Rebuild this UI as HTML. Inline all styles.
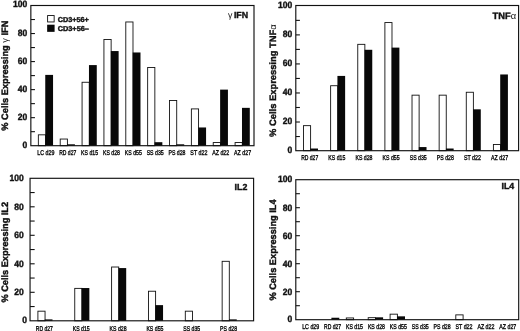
<!DOCTYPE html><html><head><meta charset="utf-8"><style>html,body{margin:0;padding:0;background:#fff}svg{display:block;will-change:transform}text{font-family:"Liberation Sans", sans-serif;fill:#111;stroke:#111;stroke-width:0.4px;text-rendering:geometricPrecision}</style></head><body>
<svg width="520" height="331" viewBox="0 0 520 331">
<rect width="520" height="331" fill="#fff"/>
<rect x="38.35" y="134.83" width="7.20" height="10.87" fill="#fff" stroke="#111" stroke-width="0.9"/>
<rect x="45.25" y="74.90" width="7.80" height="70.80" fill="#080808"/>
<rect x="60.21" y="139.04" width="7.20" height="6.66" fill="#fff" stroke="#111" stroke-width="0.9"/>
<rect x="67.11" y="144.30" width="7.80" height="1.40" fill="#080808"/>
<rect x="82.07" y="82.26" width="7.20" height="63.44" fill="#fff" stroke="#111" stroke-width="0.9"/>
<rect x="88.97" y="65.09" width="7.80" height="80.61" fill="#080808"/>
<rect x="103.93" y="39.50" width="7.20" height="106.20" fill="#fff" stroke="#111" stroke-width="0.9"/>
<rect x="110.83" y="51.06" width="7.80" height="94.64" fill="#080808"/>
<rect x="125.79" y="21.97" width="7.20" height="123.73" fill="#fff" stroke="#111" stroke-width="0.9"/>
<rect x="132.69" y="52.47" width="7.80" height="93.23" fill="#080808"/>
<rect x="147.65" y="67.54" width="7.20" height="78.16" fill="#fff" stroke="#111" stroke-width="0.9"/>
<rect x="154.55" y="142.19" width="7.80" height="3.50" fill="#080808"/>
<rect x="169.51" y="100.49" width="7.20" height="45.21" fill="#fff" stroke="#111" stroke-width="0.9"/>
<rect x="176.41" y="144.30" width="7.80" height="1.40" fill="#080808"/>
<rect x="191.37" y="108.90" width="7.20" height="36.80" fill="#fff" stroke="#111" stroke-width="0.9"/>
<rect x="198.27" y="127.47" width="7.80" height="18.23" fill="#080808"/>
<rect x="213.23" y="142.55" width="7.20" height="3.15" fill="#fff" stroke="#111" stroke-width="0.9"/>
<rect x="220.13" y="89.62" width="7.80" height="56.08" fill="#080808"/>
<rect x="235.09" y="142.55" width="7.20" height="3.15" fill="#fff" stroke="#111" stroke-width="0.9"/>
<rect x="241.99" y="107.85" width="7.80" height="37.85" fill="#080808"/>
<rect x="30.85" y="5.50" width="223.15" height="140.20" fill="none" stroke="#111" stroke-width="1.15"/>
<line x1="30.85" y1="131.68" x2="34.95" y2="131.68" stroke="#111" stroke-width="1.1"/>
<line x1="30.85" y1="117.66" x2="34.95" y2="117.66" stroke="#111" stroke-width="1.1"/>
<line x1="30.85" y1="103.64" x2="34.95" y2="103.64" stroke="#111" stroke-width="1.1"/>
<line x1="30.85" y1="89.62" x2="34.95" y2="89.62" stroke="#111" stroke-width="1.1"/>
<line x1="30.85" y1="75.60" x2="34.95" y2="75.60" stroke="#111" stroke-width="1.1"/>
<line x1="30.85" y1="61.58" x2="34.95" y2="61.58" stroke="#111" stroke-width="1.1"/>
<line x1="30.85" y1="47.56" x2="34.95" y2="47.56" stroke="#111" stroke-width="1.1"/>
<line x1="30.85" y1="33.54" x2="34.95" y2="33.54" stroke="#111" stroke-width="1.1"/>
<line x1="30.85" y1="19.52" x2="34.95" y2="19.52" stroke="#111" stroke-width="1.1"/>
<text x="27.20" y="147.50" font-size="9.2" font-weight="bold" text-anchor="end" textLength="4.75" lengthAdjust="spacingAndGlyphs">0</text>
<text x="27.20" y="120.46" font-size="9.2" font-weight="bold" text-anchor="end" textLength="9.50" lengthAdjust="spacingAndGlyphs">20</text>
<text x="27.20" y="92.42" font-size="9.2" font-weight="bold" text-anchor="end" textLength="9.50" lengthAdjust="spacingAndGlyphs">40</text>
<text x="27.20" y="64.38" font-size="9.2" font-weight="bold" text-anchor="end" textLength="9.50" lengthAdjust="spacingAndGlyphs">60</text>
<text x="27.20" y="36.34" font-size="9.2" font-weight="bold" text-anchor="end" textLength="9.50" lengthAdjust="spacingAndGlyphs">80</text>
<text x="27.20" y="7.30" font-size="9.2" font-weight="bold" text-anchor="end" textLength="14.25" lengthAdjust="spacingAndGlyphs">100</text>
<text x="45.85" y="155.00" font-size="7" text-anchor="middle" textLength="17.0" lengthAdjust="spacingAndGlyphs">LC d29</text>
<text x="67.71" y="155.00" font-size="7" text-anchor="middle" textLength="17.0" lengthAdjust="spacingAndGlyphs">RD d27</text>
<text x="89.57" y="155.00" font-size="7" text-anchor="middle" textLength="17.0" lengthAdjust="spacingAndGlyphs">KS d15</text>
<text x="111.43" y="155.00" font-size="7" text-anchor="middle" textLength="17.0" lengthAdjust="spacingAndGlyphs">KS d28</text>
<text x="133.29" y="155.00" font-size="7" text-anchor="middle" textLength="17.0" lengthAdjust="spacingAndGlyphs">KS d55</text>
<text x="155.15" y="155.00" font-size="7" text-anchor="middle" textLength="17.0" lengthAdjust="spacingAndGlyphs">SS d35</text>
<text x="177.01" y="155.00" font-size="7" text-anchor="middle" textLength="17.0" lengthAdjust="spacingAndGlyphs">PS d28</text>
<text x="198.87" y="155.00" font-size="7" text-anchor="middle" textLength="17.0" lengthAdjust="spacingAndGlyphs">ST d22</text>
<text x="220.73" y="155.00" font-size="7" text-anchor="middle" textLength="17.0" lengthAdjust="spacingAndGlyphs">AZ d22</text>
<text x="242.59" y="155.00" font-size="7" text-anchor="middle" textLength="17.0" lengthAdjust="spacingAndGlyphs">AZ d27</text>
<text transform="translate(7.60,75.65) rotate(-90)" font-size="9.3" font-weight="bold" text-anchor="middle" textLength="110.1" lengthAdjust="spacingAndGlyphs">% Cells Expressing <tspan font-weight='normal' stroke='none'>γ</tspan> IFN</text>
<rect x="303.50" y="125.65" width="7.10" height="25.05" fill="#fff" stroke="#111" stroke-width="0.9"/>
<rect x="310.30" y="148.52" width="7.70" height="2.18" fill="#080808"/>
<rect x="330.63" y="85.72" width="7.10" height="64.98" fill="#fff" stroke="#111" stroke-width="0.9"/>
<rect x="337.43" y="75.92" width="7.70" height="74.78" fill="#080808"/>
<rect x="357.76" y="44.34" width="7.10" height="106.36" fill="#fff" stroke="#111" stroke-width="0.9"/>
<rect x="364.56" y="49.79" width="7.70" height="100.91" fill="#080808"/>
<rect x="384.89" y="22.56" width="7.10" height="128.14" fill="#fff" stroke="#111" stroke-width="0.9"/>
<rect x="391.69" y="47.61" width="7.70" height="103.09" fill="#080808"/>
<rect x="412.02" y="95.16" width="7.10" height="55.54" fill="#fff" stroke="#111" stroke-width="0.9"/>
<rect x="418.82" y="147.07" width="7.70" height="3.63" fill="#080808"/>
<rect x="439.15" y="95.16" width="7.10" height="55.54" fill="#fff" stroke="#111" stroke-width="0.9"/>
<rect x="445.95" y="148.52" width="7.70" height="2.18" fill="#080808"/>
<rect x="466.28" y="92.26" width="7.10" height="58.44" fill="#fff" stroke="#111" stroke-width="0.9"/>
<rect x="473.08" y="109.32" width="7.70" height="41.38" fill="#080808"/>
<rect x="493.41" y="144.53" width="7.10" height="6.17" fill="#fff" stroke="#111" stroke-width="0.9"/>
<rect x="500.21" y="74.47" width="7.70" height="76.23" fill="#080808"/>
<rect x="295.80" y="5.50" width="222.80" height="145.20" fill="none" stroke="#111" stroke-width="1.15"/>
<line x1="295.80" y1="136.53" x2="299.90" y2="136.53" stroke="#111" stroke-width="1.1"/>
<line x1="295.80" y1="122.01" x2="299.90" y2="122.01" stroke="#111" stroke-width="1.1"/>
<line x1="295.80" y1="107.49" x2="299.90" y2="107.49" stroke="#111" stroke-width="1.1"/>
<line x1="295.80" y1="92.97" x2="299.90" y2="92.97" stroke="#111" stroke-width="1.1"/>
<line x1="295.80" y1="78.45" x2="299.90" y2="78.45" stroke="#111" stroke-width="1.1"/>
<line x1="295.80" y1="63.93" x2="299.90" y2="63.93" stroke="#111" stroke-width="1.1"/>
<line x1="295.80" y1="49.41" x2="299.90" y2="49.41" stroke="#111" stroke-width="1.1"/>
<line x1="295.80" y1="34.89" x2="299.90" y2="34.89" stroke="#111" stroke-width="1.1"/>
<line x1="295.80" y1="20.37" x2="299.90" y2="20.37" stroke="#111" stroke-width="1.1"/>
<text x="292.20" y="152.60" font-size="9.2" font-weight="bold" text-anchor="end" textLength="4.75" lengthAdjust="spacingAndGlyphs">0</text>
<text x="292.20" y="124.46" font-size="9.2" font-weight="bold" text-anchor="end" textLength="9.50" lengthAdjust="spacingAndGlyphs">20</text>
<text x="292.20" y="95.42" font-size="9.2" font-weight="bold" text-anchor="end" textLength="9.50" lengthAdjust="spacingAndGlyphs">40</text>
<text x="292.20" y="66.38" font-size="9.2" font-weight="bold" text-anchor="end" textLength="9.50" lengthAdjust="spacingAndGlyphs">60</text>
<text x="292.20" y="37.34" font-size="9.2" font-weight="bold" text-anchor="end" textLength="9.50" lengthAdjust="spacingAndGlyphs">80</text>
<text x="292.20" y="7.85" font-size="9.2" font-weight="bold" text-anchor="end" textLength="14.25" lengthAdjust="spacingAndGlyphs">100</text>
<text x="309.70" y="159.80" font-size="7" text-anchor="middle" textLength="17.0" lengthAdjust="spacingAndGlyphs">RD d27</text>
<text x="336.83" y="159.80" font-size="7" text-anchor="middle" textLength="17.0" lengthAdjust="spacingAndGlyphs">KS d15</text>
<text x="363.96" y="159.80" font-size="7" text-anchor="middle" textLength="17.0" lengthAdjust="spacingAndGlyphs">KS d28</text>
<text x="391.09" y="159.80" font-size="7" text-anchor="middle" textLength="17.0" lengthAdjust="spacingAndGlyphs">KS d55</text>
<text x="418.22" y="159.80" font-size="7" text-anchor="middle" textLength="17.0" lengthAdjust="spacingAndGlyphs">SS d35</text>
<text x="445.35" y="159.80" font-size="7" text-anchor="middle" textLength="17.0" lengthAdjust="spacingAndGlyphs">PS d28</text>
<text x="472.48" y="159.80" font-size="7" text-anchor="middle" textLength="17.0" lengthAdjust="spacingAndGlyphs">ST d22</text>
<text x="499.61" y="159.80" font-size="7" text-anchor="middle" textLength="17.0" lengthAdjust="spacingAndGlyphs">AZ d27</text>
<text transform="translate(276.30,80.65) rotate(-90)" font-size="9.3" font-weight="bold" text-anchor="middle" textLength="112.5" lengthAdjust="spacingAndGlyphs">% Cells Expressing TNF<tspan font-weight='normal' stroke='none'>α</tspan></text>
<rect x="37.90" y="311.18" width="7.15" height="9.62" fill="#fff" stroke="#111" stroke-width="0.9"/>
<rect x="44.75" y="319.38" width="7.75" height="1.43" fill="#080808"/>
<rect x="74.75" y="288.38" width="7.15" height="32.42" fill="#fff" stroke="#111" stroke-width="0.9"/>
<rect x="81.60" y="288.03" width="7.75" height="32.77" fill="#080808"/>
<rect x="111.60" y="267.01" width="7.15" height="53.79" fill="#fff" stroke="#111" stroke-width="0.9"/>
<rect x="118.45" y="268.07" width="7.75" height="52.73" fill="#080808"/>
<rect x="148.45" y="291.23" width="7.15" height="29.57" fill="#fff" stroke="#111" stroke-width="0.9"/>
<rect x="155.30" y="305.12" width="7.75" height="15.68" fill="#080808"/>
<rect x="185.30" y="311.18" width="7.15" height="9.62" fill="#fff" stroke="#111" stroke-width="0.9"/>
<rect x="222.15" y="261.31" width="7.15" height="59.49" fill="#fff" stroke="#111" stroke-width="0.9"/>
<rect x="229.00" y="319.38" width="7.75" height="1.43" fill="#080808"/>
<rect x="30.05" y="178.30" width="223.55" height="142.50" fill="none" stroke="#111" stroke-width="1.15"/>
<line x1="30.05" y1="306.55" x2="34.65" y2="306.55" stroke="#111" stroke-width="1.1"/>
<line x1="30.05" y1="292.30" x2="34.65" y2="292.30" stroke="#111" stroke-width="1.1"/>
<line x1="30.05" y1="278.05" x2="34.65" y2="278.05" stroke="#111" stroke-width="1.1"/>
<line x1="30.05" y1="263.80" x2="34.65" y2="263.80" stroke="#111" stroke-width="1.1"/>
<line x1="30.05" y1="249.55" x2="34.65" y2="249.55" stroke="#111" stroke-width="1.1"/>
<line x1="30.05" y1="235.30" x2="34.65" y2="235.30" stroke="#111" stroke-width="1.1"/>
<line x1="30.05" y1="221.05" x2="34.65" y2="221.05" stroke="#111" stroke-width="1.1"/>
<line x1="30.05" y1="206.80" x2="34.65" y2="206.80" stroke="#111" stroke-width="1.1"/>
<line x1="30.05" y1="192.55" x2="34.65" y2="192.55" stroke="#111" stroke-width="1.1"/>
<text x="27.10" y="322.50" font-size="9.2" font-weight="bold" text-anchor="end" textLength="4.75" lengthAdjust="spacingAndGlyphs">0</text>
<text x="23.80" y="295.10" font-size="9.2" font-weight="bold" text-anchor="end" textLength="9.50" lengthAdjust="spacingAndGlyphs">20</text>
<text x="23.80" y="266.60" font-size="9.2" font-weight="bold" text-anchor="end" textLength="9.50" lengthAdjust="spacingAndGlyphs">40</text>
<text x="23.80" y="238.10" font-size="9.2" font-weight="bold" text-anchor="end" textLength="9.50" lengthAdjust="spacingAndGlyphs">60</text>
<text x="23.80" y="209.60" font-size="9.2" font-weight="bold" text-anchor="end" textLength="9.50" lengthAdjust="spacingAndGlyphs">80</text>
<text x="23.80" y="181.00" font-size="9.2" font-weight="bold" text-anchor="end" textLength="14.25" lengthAdjust="spacingAndGlyphs">100</text>
<text x="44.35" y="330.50" font-size="7" text-anchor="middle" textLength="17.0" lengthAdjust="spacingAndGlyphs">RD d27</text>
<text x="81.20" y="330.50" font-size="7" text-anchor="middle" textLength="17.0" lengthAdjust="spacingAndGlyphs">KS d15</text>
<text x="118.05" y="330.50" font-size="7" text-anchor="middle" textLength="17.0" lengthAdjust="spacingAndGlyphs">KS d28</text>
<text x="154.90" y="330.50" font-size="7" text-anchor="middle" textLength="17.0" lengthAdjust="spacingAndGlyphs">KS d55</text>
<text x="191.75" y="330.50" font-size="7" text-anchor="middle" textLength="17.0" lengthAdjust="spacingAndGlyphs">SS d35</text>
<text x="228.60" y="330.50" font-size="7" text-anchor="middle" textLength="17.0" lengthAdjust="spacingAndGlyphs">PS d28</text>
<text transform="translate(7.80,252.20) rotate(-90)" font-size="9.3" font-weight="bold" text-anchor="middle" textLength="100.6" lengthAdjust="spacingAndGlyphs">% Cells Expressing IL2</text>
<rect x="331.40" y="317.74" width="7.90" height="1.96" fill="#080808"/>
<rect x="346.30" y="317.95" width="7.30" height="1.75" fill="#fff" stroke="#111" stroke-width="0.9"/>
<rect x="368.20" y="317.67" width="7.30" height="2.03" fill="#fff" stroke="#111" stroke-width="0.9"/>
<rect x="375.20" y="317.32" width="7.90" height="2.38" fill="#080808"/>
<rect x="390.10" y="314.17" width="7.30" height="5.53" fill="#fff" stroke="#111" stroke-width="0.9"/>
<rect x="397.10" y="316.34" width="7.90" height="3.36" fill="#080808"/>
<rect x="455.80" y="314.87" width="7.30" height="4.83" fill="#fff" stroke="#111" stroke-width="0.9"/>
<rect x="295.80" y="179.70" width="222.90" height="140.00" fill="none" stroke="#111" stroke-width="1.15"/>
<line x1="295.80" y1="305.70" x2="299.90" y2="305.70" stroke="#111" stroke-width="1.1"/>
<line x1="295.80" y1="291.70" x2="299.90" y2="291.70" stroke="#111" stroke-width="1.1"/>
<line x1="295.80" y1="277.70" x2="299.90" y2="277.70" stroke="#111" stroke-width="1.1"/>
<line x1="295.80" y1="263.70" x2="299.90" y2="263.70" stroke="#111" stroke-width="1.1"/>
<line x1="295.80" y1="249.70" x2="299.90" y2="249.70" stroke="#111" stroke-width="1.1"/>
<line x1="295.80" y1="235.70" x2="299.90" y2="235.70" stroke="#111" stroke-width="1.1"/>
<line x1="295.80" y1="221.70" x2="299.90" y2="221.70" stroke="#111" stroke-width="1.1"/>
<line x1="295.80" y1="207.70" x2="299.90" y2="207.70" stroke="#111" stroke-width="1.1"/>
<line x1="295.80" y1="193.70" x2="299.90" y2="193.70" stroke="#111" stroke-width="1.1"/>
<text x="292.30" y="321.60" font-size="9.2" font-weight="bold" text-anchor="end" textLength="4.75" lengthAdjust="spacingAndGlyphs">0</text>
<text x="292.30" y="294.50" font-size="9.2" font-weight="bold" text-anchor="end" textLength="9.50" lengthAdjust="spacingAndGlyphs">20</text>
<text x="292.30" y="266.50" font-size="9.2" font-weight="bold" text-anchor="end" textLength="9.50" lengthAdjust="spacingAndGlyphs">40</text>
<text x="292.30" y="238.50" font-size="9.2" font-weight="bold" text-anchor="end" textLength="9.50" lengthAdjust="spacingAndGlyphs">60</text>
<text x="292.30" y="210.50" font-size="9.2" font-weight="bold" text-anchor="end" textLength="9.50" lengthAdjust="spacingAndGlyphs">80</text>
<text x="292.30" y="181.80" font-size="9.2" font-weight="bold" text-anchor="end" textLength="14.25" lengthAdjust="spacingAndGlyphs">100</text>
<text x="310.70" y="328.80" font-size="7" text-anchor="middle" textLength="17.0" lengthAdjust="spacingAndGlyphs">LC d29</text>
<text x="332.60" y="328.80" font-size="7" text-anchor="middle" textLength="17.0" lengthAdjust="spacingAndGlyphs">RD d27</text>
<text x="354.50" y="328.80" font-size="7" text-anchor="middle" textLength="17.0" lengthAdjust="spacingAndGlyphs">KS d15</text>
<text x="376.40" y="328.80" font-size="7" text-anchor="middle" textLength="17.0" lengthAdjust="spacingAndGlyphs">KS d28</text>
<text x="398.30" y="328.80" font-size="7" text-anchor="middle" textLength="17.0" lengthAdjust="spacingAndGlyphs">KS d55</text>
<text x="420.20" y="328.80" font-size="7" text-anchor="middle" textLength="17.0" lengthAdjust="spacingAndGlyphs">SS d35</text>
<text x="442.10" y="328.80" font-size="7" text-anchor="middle" textLength="17.0" lengthAdjust="spacingAndGlyphs">PS d28</text>
<text x="464.00" y="328.80" font-size="7" text-anchor="middle" textLength="17.0" lengthAdjust="spacingAndGlyphs">ST d22</text>
<text x="485.90" y="328.80" font-size="7" text-anchor="middle" textLength="17.0" lengthAdjust="spacingAndGlyphs">AZ d22</text>
<text x="507.80" y="328.80" font-size="7" text-anchor="middle" textLength="17.0" lengthAdjust="spacingAndGlyphs">AZ d27</text>
<text transform="translate(276.40,250.00) rotate(-90)" font-size="9.3" font-weight="bold" text-anchor="middle" textLength="101.2" lengthAdjust="spacingAndGlyphs">% Cells Expressing IL4</text>
<text x="248.1" y="18.1" font-size="8.8" font-weight="bold" text-anchor="end"><tspan font-weight="normal" stroke="none">γ</tspan><tspan dx="1.6">IFN</tspan></text>
<text x="516.0" y="19.3" font-size="9.3" font-weight="bold" text-anchor="end">TNF<tspan font-weight="normal" stroke="none">α</tspan></text>
<text x="247.3" y="189.6" font-size="8.8" font-weight="bold" text-anchor="end">IL2</text>
<text x="514.2" y="189.1" font-size="8.8" font-weight="bold" text-anchor="end">IL4</text>
<rect x="47.6" y="15.55" width="6.55" height="6.4" fill="#fff" stroke="#111" stroke-width="0.9"/>
<rect x="47.15" y="24.7" width="7.45" height="7.15" fill="#080808"/>
<text x="57.7" y="21.5" font-size="7.1" font-weight="bold" textLength="31.2" lengthAdjust="spacingAndGlyphs">CD3+56+</text>
<text x="57.7" y="30.7" font-size="7.1" font-weight="bold" textLength="31.2" lengthAdjust="spacingAndGlyphs">CD3+56–</text>
</svg></body></html>
